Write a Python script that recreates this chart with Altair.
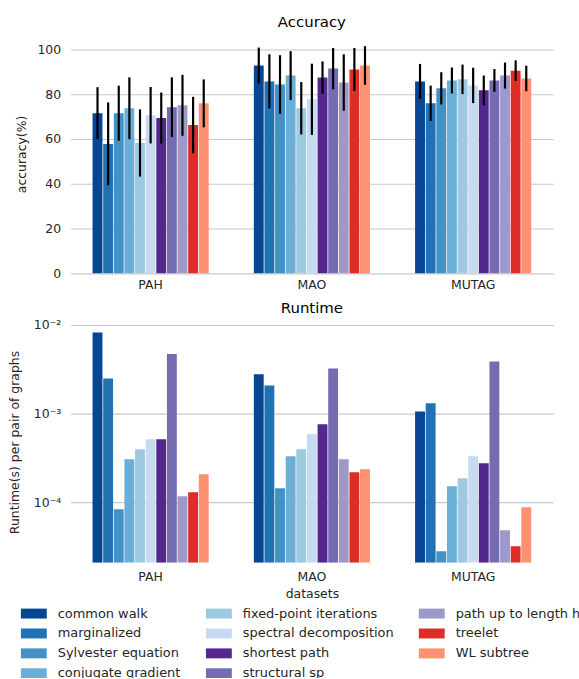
import altair as alt
import pandas as pd

datasets = ["PAH", "MAO", "MUTAG"]
kernels = ["common walk", "marginalized", "Sylvester equation", "conjugate gradient",
           "fixed-point iterations", "spectral decomposition", "shortest path",
           "structural sp", "path up to length h", "treelet", "WL subtree"]
colors = ["#084594", "#2171b5", "#4292c6", "#6baed6", "#9ecae1", "#c6dbef",
          "#54278f", "#756bb1", "#9e9ac8", "#de2d26", "#fc9272"]

acc_PAH = [71.5, 57.8, 71.5, 73.7, 58.2, 70.6, 69.3, 74.2, 75.0, 66.2, 75.9]
std_PAH = [11.6, 18.5, 12.3, 13.8, 15.0, 12.6, 11.4, 13.3, 13.6, 12.6, 10.7]
acc_MAO = [92.8, 85.7, 84.3, 88.3, 73.7, 77.7, 87.4, 91.4, 85.2, 91.0, 92.8]
std_MAO = [8.0, 12.1, 13.1, 10.9, 11.7, 15.9, 7.2, 9.2, 12.6, 9.6, 8.6]
acc_MUTAG = [85.7, 75.9, 82.6, 86.1, 86.6, 83.9, 81.7, 86.1, 88.3, 90.5, 87.0]
std_MUTAG = [7.8, 7.9, 7.2, 5.8, 6.6, 7.9, 6.6, 5.1, 5.8, 4.6, 5.7]

rt_PAH = [8.2e-3, 2.49e-3, 8.4e-5, 3.07e-4, 3.97e-4, 5.15e-4, 5.15e-4, 4.68e-3, 1.18e-4, 1.31e-4, 2.08e-4]
rt_MAO = [2.77e-3, 2.08e-3, 1.45e-4, 3.32e-4, 3.97e-4, 5.86e-4, 7.59e-4, 3.23e-3, 3.07e-4, 2.19e-4, 2.37e-4]
rt_MUTAG = [1.06e-3, 1.31e-3, 2.84e-5, 1.53e-4, 1.88e-4, 3.32e-4, 2.77e-4, 3.87e-3, 4.89e-5, 3.23e-5, 8.87e-5]

acc = {"PAH": acc_PAH, "MAO": acc_MAO, "MUTAG": acc_MUTAG}
std = {"PAH": std_PAH, "MAO": std_MAO, "MUTAG": std_MUTAG}
rt = {"PAH": rt_PAH, "MAO": rt_MAO, "MUTAG": rt_MUTAG}

rows = []
for d in datasets:
    for i, k in enumerate(kernels):
        rows.append(dict(dataset=d, kernel=k, acc=acc[d][i],
                         lo=acc[d][i] - std[d][i], hi=acc[d][i] + std[d][i],
                         runtime=rt[d][i]))
df = pd.DataFrame(rows)

FONT = "DejaVu Sans"
W = 485

def x_enc(title, label_pad):
    return alt.X("dataset:N", sort=datasets, title=title,
                 scale=alt.Scale(paddingInner=0.28, paddingOuter=0.136),
                 axis=alt.Axis(labelAngle=0, ticks=False, domain=False, grid=False,
                               labelPadding=label_pad, labelFontSize=12.5))

xo_enc = alt.XOffset("kernel:N", sort=kernels,
                     scale=alt.Scale(paddingInner=0.07, paddingOuter=0))
color_enc = alt.Color("kernel:N",
                      scale=alt.Scale(domain=kernels, range=colors),
                      legend=alt.Legend(title=None, orient="none", legendX=-50, legendY=569,
                                        columns=3, columnPadding=25, rowPadding=0,
                                        symbolType="M-1,-0.3846H1V0.3846H-1Z",
                                        symbolSize=676, symbolStrokeWidth=0,
                                        labelFontSize=13, labelFont=FONT,
                                        labelOffset=11, labelLimit=300,
                                        labelColor="#262626"))

top_bars = alt.Chart(df).mark_bar().encode(
    x=x_enc(None, 5),
    xOffset=xo_enc,
    y=alt.Y("acc:Q", scale=alt.Scale(domain=[0, 106.6], nice=False, zero=True),
            axis=alt.Axis(values=[0, 20, 40, 60, 80, 100], title="accuracy(%)",
                          titlePadding=9)),
    color=color_enc,
)
top_err = alt.Chart(df).mark_rule(color="black", strokeWidth=2.2).encode(
    x=x_enc(None, 5),
    xOffset=xo_enc,
    y="lo:Q",
    y2="hi:Q",
)
top = alt.layer(top_bars, top_err).properties(
    width=W, height=240,
    title=alt.TitleParams("Accuracy", fontSize=15, fontWeight="normal", font=FONT, offset=5),
)

label_expr = ("datum.value < 0.0005 ? '10⁻⁴' : datum.value < 0.005 ? '10⁻³' : '10⁻²'")
bottom = alt.Chart(df).mark_bar(clip=True).encode(
    x=x_enc("datasets", 8),
    xOffset=xo_enc,
    y=alt.Y("runtime:Q",
            scale=alt.Scale(type="log", domain=[2.1e-5, 1.1e-2], nice=False),
            axis=alt.Axis(values=[1e-4, 1e-3, 1e-2], labelExpr=label_expr,
                          title="Runtime(s) per pair of graphs", titlePadding=12)),
    y2=alt.datum(2.1e-5),
    color=color_enc,
).properties(
    width=W, height=243,
    title=alt.TitleParams("Runtime", fontSize=15, fontWeight="normal", font=FONT, offset=3),
)

chart = alt.vconcat(top, bottom, spacing=9).resolve_scale(color="shared").properties(
    padding={"left": 8, "top": 13, "right": -2, "bottom": -4}
).configure_view(stroke=None).configure_axis(
    labelFont=FONT, titleFont=FONT, labelFontSize=12.5, titleFontSize=12.5,
    titleFontWeight="normal", labelColor="#262626", titleColor="#262626",
).configure_axisY(
    domain=False, ticks=False, grid=True, gridColor="#c8c8c8", gridWidth=1.1,
    labelPadding=10,
).configure_axisX(titlePadding=4)

chart.save("out.html", embed_options={"renderer": "svg", "actions": False})
